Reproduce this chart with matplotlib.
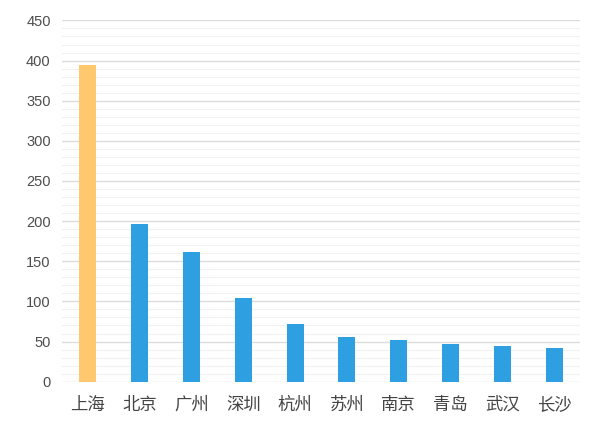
import matplotlib.pyplot as plt
import numpy as np
from matplotlib.ticker import MultipleLocator

plt.rcParams['font.family'] = ['Noto Sans CJK SC', 'DejaVu Sans']

cities = ['上海', '北京', '广州', '深圳', '杭州', '苏州', '南京', '青岛', '武汉', '长沙']
values = [394, 196, 162, 104, 72, 56, 52, 47, 45, 42]
colors = ['#FFC86E'] + ['#2E9FE0'] * (len(cities) - 1)

fig = plt.figure(figsize=(6, 4.24), dpi=100)
ax = fig.add_axes([0.103, 0.0998, 0.864, 0.852])

x = np.arange(len(cities))
ax.bar(x, values, width=0.33, color=colors, zorder=3)

ax.set_xlim(-0.5, len(cities) - 0.5)
ax.set_ylim(0, 450)
ax.yaxis.set_major_locator(MultipleLocator(50))
ax.yaxis.set_minor_locator(MultipleLocator(10))
ax.grid(which='major', axis='y', color='#DCDCDC', linewidth=1.0, zorder=0)
ax.grid(which='minor', axis='y', color='#F1F1F1', linewidth=0.8, zorder=0)

for s in ax.spines.values():
    s.set_visible(False)

ax.set_xticks(x)
ax.set_xticklabels(cities, fontsize=12.5, color='#444444')
ax.tick_params(axis='x', length=0, pad=10)
ax.tick_params(axis='y', which='both', length=0, pad=8)
for lab in ax.get_yticklabels():
    lab.set_family(['Liberation Sans', 'DejaVu Sans'])
    lab.set_fontsize(10.5)
    lab.set_color('#4d4d4d')

plt.savefig('out.png', dpi=100)
